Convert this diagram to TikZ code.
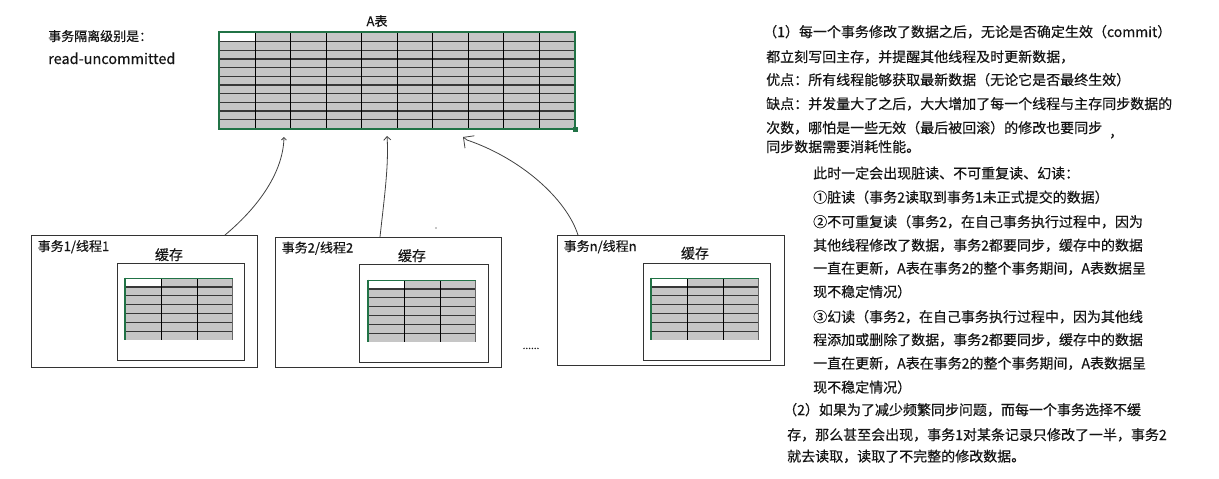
\documentclass[tikz,border=0pt]{standalone}
\usepackage{fontspec}
\setmainfont{Noto Sans CJK SC}[FakeBold=0.35]
\usetikzlibrary{arrows.meta}
\definecolor{excelgreen}{RGB}{33,115,70}
\definecolor{cellgray}{RGB}{198,198,198}
\definecolor{inkc}{RGB}{20,20,20}
\tikzset{
  hl/.style={draw=black!78, line width=1.3pt},
  vl/.style={draw=black, line width=0.9pt},
  frame/.style={draw=black!80, line width=0.9pt, anchor=north west, inner sep=0pt, outer sep=0pt},
  txt/.style={anchor=base west, inner sep=0pt, text=inkc, font=\fontsize{14}{16}\selectfont},
  stxt/.style={anchor=base west, inner sep=0pt, text=inkc, font=\fontsize{13}{15}\selectfont},
  conn/.style={draw=black!75, line width=0.8pt},
  pics/minitab/.style={code={
    \fill[cellgray] (0,0) rectangle (108,62);
    \fill[white] (0,0.5) rectangle (36,8.9);
    \foreach \i in {1,...,6} \draw[hl] (0,{\i*8.86}) -- (108,{\i*8.86});
    \foreach \j in {1,2} \draw[vl] ({\j*36},0) -- ({\j*36},62);
    \draw[black!60, line width=1.6pt] (107.5,0) -- (107.5,62);
    \draw[excelgreen, line width=0.6pt] (0,0.3) -- (108,0.3);
    \draw[excelgreen, line width=1.6pt] (0,-0.5) -- (0,62);
  }}
}
\begin{document}
\begin{tikzpicture}[x=1pt,y=-1pt]
\useasboundingbox (0,0) rectangle (1219,479);

% ---- main table A
\fill[cellgray] (219.5,33) rectangle (574.5,128.5);
\fill[white] (219.5,33) rectangle (255,41.3);
\foreach \i in {1,...,10} \draw[hl] (219.5,{33+\i*8.66}) -- (574.5,{33+\i*8.66});
\foreach \j in {1,...,9} \draw[vl] ({219.5+\j*35.5},33) -- ({219.5+\j*35.5},128.5);
\node[draw=excelgreen, line width=1.3pt, anchor=north west, inner sep=0pt, outer sep=0pt,
      minimum width=356pt, minimum height=97pt] (tA) at (219,32) {};
\fill[excelgreen] (573,127) rectangle (577.5,131.5);
\node[stxt, anchor=base] (tAlabel) at (377,26) {A表};

% ---- left labels
\node[stxt] (iso1) at (48,41) {事务隔离级别是：};
\node[stxt, font=\fontsize{14.5}{16}\selectfont] (iso2) at (48,64) {read-uncommitted};

% ---- thread boxes
\node[frame, minimum width=226pt, minimum height=132pt] (t1) at (31,235) {};
\node[frame, minimum width=127pt, minimum height=97pt] (c1) at (117,263) {};
\node[stxt] (t1l) at (37.5,251) {事务1/线程1};
\node[txt, anchor=base] (c1l) at (169,260) {缓存};
\pic at (125,278) {minitab};

\node[frame, minimum width=226pt, minimum height=130pt] (t2) at (275,237) {};
\node[frame, minimum width=129pt, minimum height=98pt] (c2) at (359,264) {};
\node[stxt] (t2l) at (281.5,252.5) {事务2/线程2};
\node[txt, anchor=base] (c2l) at (412,261) {缓存};
\pic at (368,280) {minitab};

\node[frame, minimum width=227pt, minimum height=130pt] (t3) at (557,235) {};
\node[frame, minimum width=127pt, minimum height=97pt] (c3) at (643,263) {};
\node[stxt] (t3l) at (563.5,251) {事务n/线程n};
\node[txt, anchor=base] (c3l) at (695,258.5) {缓存};
\pic at (651,278) {minitab};

\node[anchor=base, inner sep=0pt, text=inkc, font=\fontsize{10}{12}\selectfont] (dots) at (531,349) {......};
\fill[black!45] (436,228) circle (0.8);

% ---- connectors
\coordinate (e1) at (284,137);
\coordinate (e2) at (387,136);
\coordinate (e3) at (463,137);
\draw[conn, -{Straight Barb[angle=90:3.5pt]}] ([xshift=194pt]t1.north west)
   .. controls (255,210) and (283,175) .. (e1);
\draw[conn, -{Straight Barb[angle=90:5pt]}] ([xshift=105pt]t2.north west)
   .. controls (384,200) and (389,165) .. (e2);
\draw[conn, -{Straight Barb[angle=90:11pt]}] ([xshift=21pt]t3.north west)
   .. controls (566,198) and (520,158) .. (467,140) -- (e3);

% ---- right text
\node[txt] (r1) at (763,37) {（1）每一个事务修改了数据之后，无论是否确定生效（commit）};
\node[txt] (r2) at (766,62) {都立刻写回主存，并提醒其他线程及时更新数据，};
\node[txt] (r3) at (766,85) {优点：所有线程能够获取最新数据（无论它是否最终生效）};
\node[txt] (r4) at (766,109) {缺点：并发量大了之后，大大增加了每一个线程与主存同步数据的};
\node[txt] (r5) at (766,133) {次数，哪怕是一些无效（最后被回滚）的修改也要同步};
\node[txt] (r5c) at (1109,137) {，};
\node[txt] (r6) at (766,152) {同步数据需要消耗性能。};

\node[txt] (i1) at (813,178.5) {此时一定会出现脏读、不可重复读、幻读：};
\node[txt] (i2) at (813,202.5) {①脏读（事务2读取到事务1未正式提交的数据）};
\node[txt] (i3) at (813,227) {②不可重复读（事务2，在自己事务执行过程中，因为};
\node[txt] (i4) at (813,250.5) {其他线程修改了数据，事务2都要同步，缓存中的数据};
\node[txt] (i5) at (813,273.5) {一直在更新，A表在事务2的整个事务期间，A表数据呈};
\node[txt] (i6) at (813,297) {现不稳定情况）};
\node[txt] (i7) at (813,322) {③幻读（事务2，在自己事务执行过程中，因为其他线};
\node[txt] (i8) at (813,345) {程添加或删除了数据，事务2都要同步，缓存中的数据};
\node[txt] (i9) at (813,368.5) {一直在更新，A表在事务2的整个事务期间，A表数据呈};
\node[txt] (i10) at (813,392.5) {现不稳定情况）};

\node[txt] (p1) at (783,415) {（2）如果为了减少频繁同步问题，而每一个事务选择不缓};
\node[txt] (p2) at (787,440) {存，那么甚至会出现，事务1对某条记录只修改了一半，事务2};
\node[txt] (p3) at (787,461.5) {就去读取，读取了不完整的修改数据。};
\end{tikzpicture}
\end{document}
